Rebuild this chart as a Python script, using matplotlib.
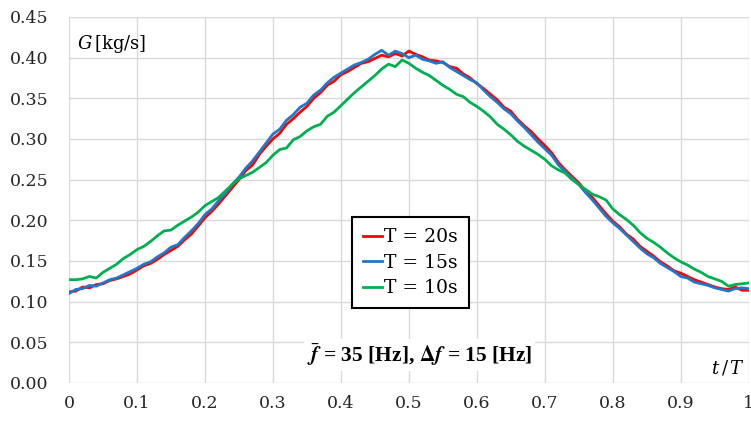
import numpy as np
import matplotlib
matplotlib.use('Agg')
import matplotlib.pyplot as plt

# t/T sampling
t = np.round(np.arange(0, 101) * 0.01, 2)

g_20s = [0.112, 0.113, 0.118, 0.117, 0.121, 0.122, 0.126, 0.128, 0.131, 0.134,
         0.139, 0.144, 0.147, 0.152, 0.158, 0.163, 0.168, 0.176, 0.183, 0.193,
         0.203, 0.211, 0.220, 0.230, 0.240, 0.250, 0.261, 0.268, 0.281, 0.291,
         0.300, 0.307, 0.318, 0.325, 0.333, 0.340, 0.350, 0.357, 0.366, 0.371,
         0.379, 0.383, 0.388, 0.393, 0.395, 0.399, 0.403, 0.401, 0.405, 0.402,
         0.408, 0.404, 0.401, 0.397, 0.396, 0.394, 0.389, 0.387, 0.380, 0.375,
         0.368, 0.362, 0.355, 0.348, 0.339, 0.334, 0.324, 0.316, 0.309, 0.300,
         0.292, 0.283, 0.271, 0.262, 0.254, 0.246, 0.236, 0.228, 0.218, 0.208,
         0.199, 0.192, 0.183, 0.177, 0.168, 0.162, 0.156, 0.149, 0.144, 0.138,
         0.135, 0.131, 0.127, 0.124, 0.121, 0.118, 0.116, 0.115, 0.118, 0.114,
         0.114]

g_15s = [0.110, 0.115, 0.116, 0.120, 0.119, 0.123, 0.127, 0.129, 0.133, 0.137,
         0.141, 0.146, 0.149, 0.155, 0.160, 0.167, 0.170, 0.179, 0.187, 0.196,
         0.207, 0.214, 0.224, 0.233, 0.244, 0.253, 0.264, 0.273, 0.284, 0.295,
         0.306, 0.312, 0.323, 0.330, 0.339, 0.344, 0.354, 0.360, 0.369, 0.376,
         0.381, 0.386, 0.391, 0.394, 0.398, 0.404, 0.409, 0.403, 0.408, 0.405,
         0.400, 0.403, 0.398, 0.396, 0.393, 0.395, 0.388, 0.383, 0.378, 0.373,
         0.369, 0.360, 0.352, 0.345, 0.337, 0.331, 0.322, 0.314, 0.305, 0.296,
         0.288, 0.280, 0.268, 0.260, 0.252, 0.244, 0.234, 0.225, 0.215, 0.205,
         0.197, 0.190, 0.182, 0.174, 0.166, 0.159, 0.154, 0.147, 0.142, 0.137,
         0.131, 0.129, 0.124, 0.122, 0.120, 0.117, 0.115, 0.113, 0.116, 0.117,
         0.116]

g_10s = [0.127, 0.127, 0.128, 0.131, 0.129, 0.136, 0.141, 0.146, 0.153, 0.158,
         0.164, 0.168, 0.174, 0.181, 0.187, 0.188, 0.194, 0.199, 0.204, 0.210,
         0.218, 0.223, 0.228, 0.236, 0.244, 0.251, 0.255, 0.259, 0.265, 0.271,
         0.280, 0.287, 0.289, 0.299, 0.303, 0.310, 0.315, 0.318, 0.328, 0.333,
         0.341, 0.349, 0.357, 0.364, 0.371, 0.378, 0.386, 0.392, 0.389, 0.397,
         0.393, 0.387, 0.382, 0.378, 0.372, 0.366, 0.361, 0.355, 0.352, 0.345,
         0.340, 0.334, 0.327, 0.318, 0.312, 0.305, 0.297, 0.291, 0.286, 0.281,
         0.275, 0.267, 0.262, 0.258, 0.250, 0.244, 0.238, 0.232, 0.229, 0.225,
         0.214, 0.207, 0.201, 0.194, 0.185, 0.178, 0.173, 0.167, 0.160, 0.154,
         0.149, 0.145, 0.140, 0.136, 0.131, 0.128, 0.125, 0.119, 0.121, 0.122,
         0.123]

series = [('T = 20s', g_20s, '#ff0000'),
          ('T = 15s', g_15s, '#1f78c8'),
          ('T = 10s', g_10s, '#00b050')]

x_ticks = [0, 0.1, 0.2, 0.3, 0.4, 0.5, 0.6, 0.7, 0.8, 0.9, 1]
x_labels = ['0', '0.1', '0.2', '0.3', '0.4', '0.5', '0.6', '0.7', '0.8', '0.9', '1']
y_ticks = [0.00, 0.05, 0.10, 0.15, 0.20, 0.25, 0.30, 0.35, 0.40, 0.45]

fig = plt.figure(figsize=(7.51, 4.24), dpi=100)
ax = fig.add_axes([0.0919, 0.0967, 0.9051, 0.8633])

for label, vals, col in series:
    ax.plot(t, vals, color=col, lw=2.0, label=label, zorder=3)

ax.set_xlim(0, 1)
ax.set_ylim(0, 0.45)
ax.set_xticks(x_ticks)
ax.set_xticklabels(x_labels)
ax.set_yticks(y_ticks)
ax.set_yticklabels(['%.2f' % v for v in y_ticks])
ax.grid(True, color='#d9d9d9', lw=1.0, zorder=0)
ax.set_axisbelow(True)
for s in ax.spines.values():
    s.set_visible(False)
ax.tick_params(length=0, labelsize=12.5, colors='#262626')
ax.tick_params(axis='x', pad=9)
ax.tick_params(axis='y', pad=15)
for lab in ax.get_xticklabels() + ax.get_yticklabels():
    lab.set_fontfamily('DejaVu Serif')

leg = ax.legend(loc='center', bbox_to_anchor=(0.502, 0.329), frameon=True,
                fancybox=False, edgecolor='black', handlelength=1.0,
                handletextpad=0.1, borderpad=0.6, labelspacing=0.4,
                borderaxespad=0,
                prop={'family': 'DejaVu Serif', 'size': 13.5})
leg.get_frame().set_linewidth(1.5)
leg.get_frame().set_alpha(1)

ax.text(0.012, 0.925, r'$G\,$[kg/s]', transform=ax.transAxes, fontsize=13,
        fontfamily='DejaVu Serif', math_fontfamily='dejavuserif',
        va='center', ha='left')
ax.text(0.994, 0.04, r'$t\,/\,T$', transform=ax.transAxes, fontsize=13,
        math_fontfamily='dejavuserif', va='center', ha='right')
ax.text(0.516, 0.077, r'$\bar{\mathbfit{f}}$ = 35 [Hz], $\mathbf{\Delta}\mathbfit{f}$ = 15 [Hz]',
        transform=ax.transAxes, fontsize=15.5, fontfamily='Liberation Serif',
        fontweight='bold', math_fontfamily='stix', va='center', ha='center',
        bbox=dict(facecolor='white', edgecolor='none', pad=2))

fig.savefig('out.png', dpi=100)
